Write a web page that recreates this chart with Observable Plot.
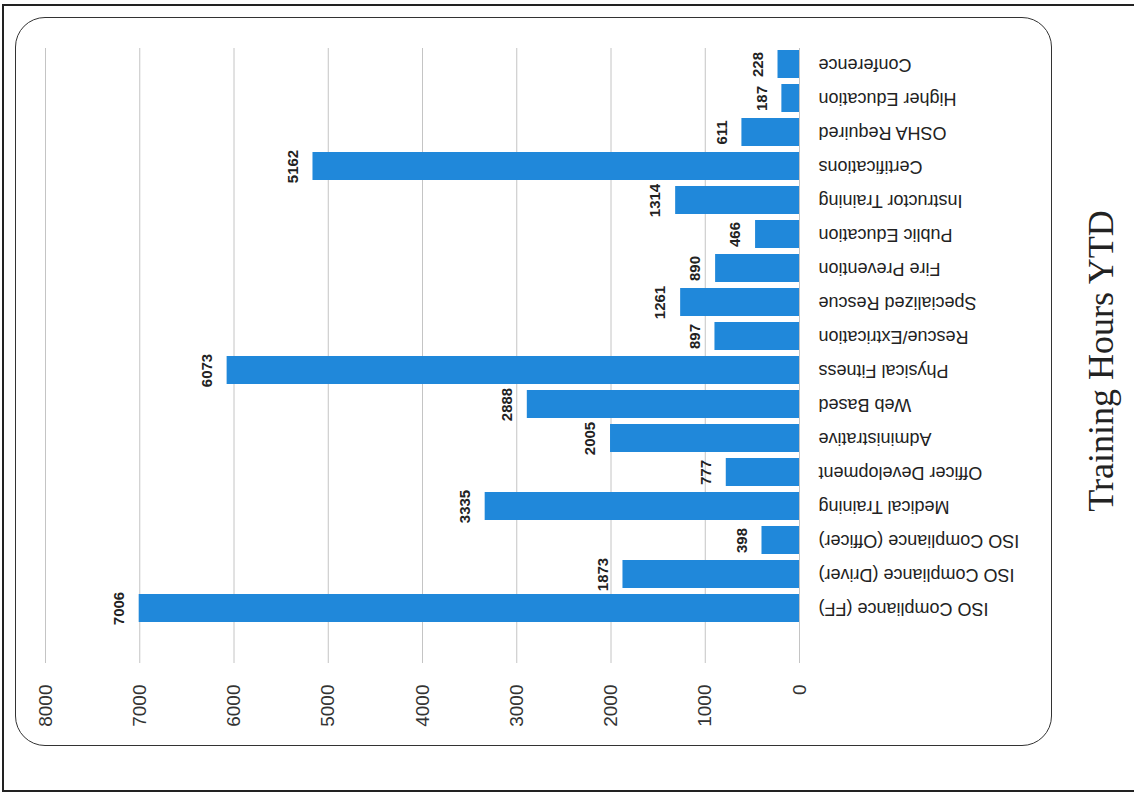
<!DOCTYPE html>
<html>
<head>
<meta charset="utf-8">
<script src="https://cdn.jsdelivr.net/npm/d3@7"></script>
<script src="https://cdn.jsdelivr.net/npm/@observablehq/plot@0.6"></script>
<style>
  html, body { margin: 0; padding: 0; background: #fff; overflow: hidden; width: 1134px; height: 803px; }
  #page { position: relative; width: 1134px; height: 803px; }
  #page svg { position: absolute; left: 0; top: 0; }
  .outer { position: absolute; left: 2px; top: 4px; width: 1200px; height: 788px; border: 2px solid #222; border-right: none; box-sizing: border-box; pointer-events: none; }
  .inner { position: absolute; left: 15px; top: 17px; width: 1037px; height: 729px; border: 1.6px solid #333; border-radius: 30px; box-sizing: border-box; pointer-events: none; }
</style>
</head>
<body>
<div id="page"></div>
<script>
const categories = ["ISO Compliance (FF)", "ISO Compliance (Driver)", "ISO Compliance (Officer)", "Medical Training", "Officer Development", "Administrative", "Web Based", "Physical Fitness", "Rescue/Extrication", "Specialized Rescue", "Fire Prevention", "Public Education", "Instructor Training", "Certifications", "OSHA Required", "Higher Education", "Conference"];
const hours = [7006, 1873, 398, 3335, 777, 2005, 2888, 6073, 897, 1261, 890, 466, 1314, 5162, 611, 187, 228];
const ticks = [0, 1000, 2000, 3000, 4000, 5000, 6000, 7000, 8000];
const title = "Training Hours YTD";

const data = categories.map((c, i) => ({category: c, value: hours[i]}));

const chart = Plot.plot({
  width: 1134,
  height: 803,
  marginLeft: 45,
  marginRight: 335,
  marginTop: 48,
  marginBottom: 140,
  style: {background: "transparent", fontFamily: "'Liberation Sans', Arial, sans-serif"},
  x: {domain: [0, 8000], reverse: true, axis: null},
  y: {domain: categories.slice().reverse(), paddingInner: 0.18, paddingOuter: 0, insetBottom: 40, axis: null},
  marks: [
    Plot.ruleX(ticks, {stroke: "#c4c4c4", strokeWidth: 1}),
    Plot.barX(data, {x: "value", y: "category", fill: "#2088da"}),
    Plot.text(data, {x: "value", y: "category", text: d => String(d.value), rotate: -90, textAnchor: "middle", lineAnchor: "middle", dx: -20, fontSize: 15, fontWeight: "bold", fill: "#222"}),
    Plot.text(data, {x: 0, y: "category", text: "category", rotate: 180, textAnchor: "end", lineAnchor: "middle", dx: 19, fontSize: 18, fill: "#222"}),
    Plot.text(ticks, {x: d => d, frameAnchor: "bottom", text: d => String(d), rotate: -90, textAnchor: "end", lineAnchor: "middle", dy: 21, fontSize: 19, fill: "#333"}),
    Plot.text([title], {frameAnchor: "right", text: d => d, rotate: -90, textAnchor: "middle", lineAnchor: "middle", dx: 302, dy: 5, fontSize: 36, fontFamily: "'Liberation Serif', 'Times New Roman', serif", fill: "#222"})
  ]
});

const page = document.getElementById("page");
page.appendChild(chart);
const outer = document.createElement("div"); outer.className = "outer"; page.appendChild(outer);
const inner = document.createElement("div"); inner.className = "inner"; page.appendChild(inner);
</script>
</body>
</html>
